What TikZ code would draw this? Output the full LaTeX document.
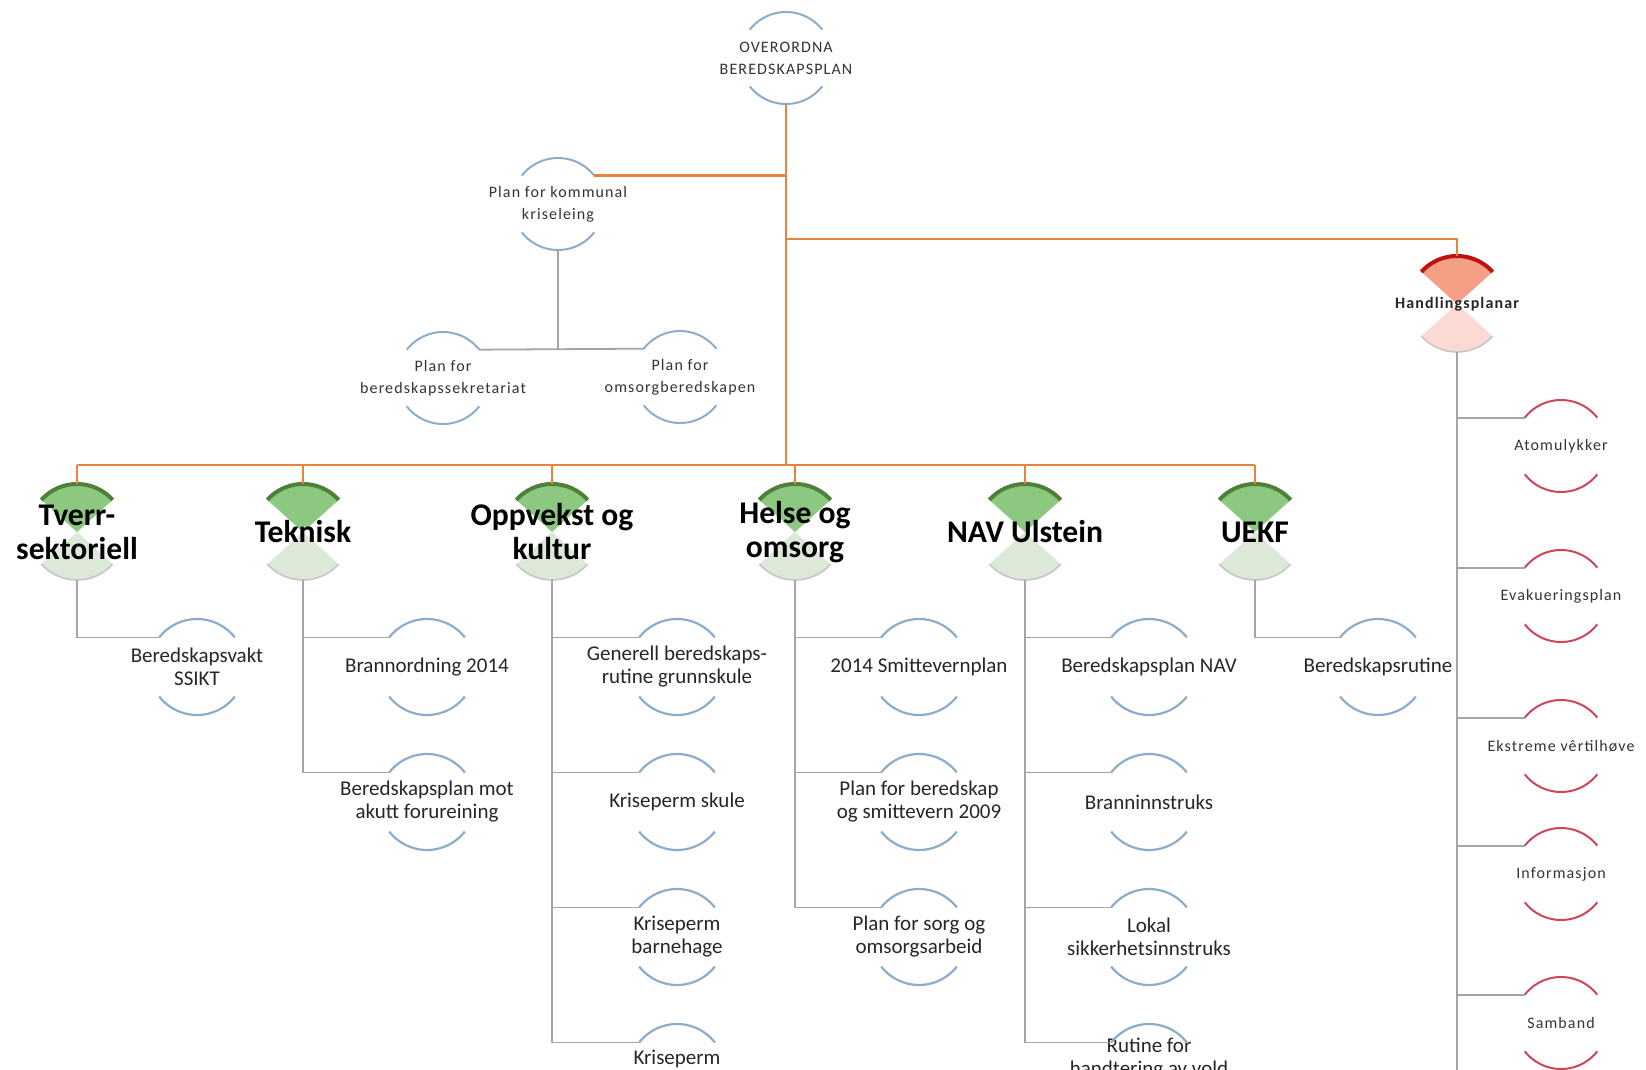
\documentclass[tikz,border=0pt]{standalone}
\usepackage{fontspec}
\setmainfont{Carlito}
\newfontfamily\smallfont[LetterSpace=7]{Carlito}
\usetikzlibrary{backgrounds}

\definecolor{linkorange}{RGB}{232,131,60}
\definecolor{linkgray}{RGB}{165,165,165}
\definecolor{arcblue}{RGB}{140,172,204}
\definecolor{arcred}{RGB}{205,70,90}
\definecolor{sectorgreen}{RGB}{140,200,128}
\definecolor{rimgreen}{RGB}{78,128,58}
\definecolor{palegreen}{RGB}{220,233,216}
\definecolor{sectorsalmon}{RGB}{244,160,135}
\definecolor{rimred}{RGB}{192,16,16}
\definecolor{palesalmon}{RGB}{250,218,210}

\tikzset{
  orangelink/.style={draw=linkorange, line width=1.3pt},
  graylink/.style={draw=linkgray, line width=0.9pt},
  hub/.style={circle, minimum size=48pt, inner sep=0pt, outer sep=0pt,
    label={[font=\bfseries\fontsize{15.8}{17}\selectfont, align=center]center:#1}},
  redhub/.style={circle, minimum size=48pt, inner sep=0pt, outer sep=0pt,
    label={[font=\smallfont\bfseries\fontsize{8}{10}\selectfont, text=black!85, align=center]center:#1}},
  plan/.style={circle, minimum size=48pt, inner sep=0pt, outer sep=0pt,
    label={[font=\fontsize{10.5}{11.5}\selectfont, text=black!85, align=center]center:#1}},
  smallplan/.style={circle, minimum size=46pt, inner sep=0pt, outer sep=0pt,
    label={[font=\smallfont\fontsize{8}{11}\selectfont, text=black!80, align=center]center:#1}},
}

\begin{document}
\begin{tikzpicture}[x=0.5pt, y=0.5pt]
  \useasboundingbox (0,0) rectangle (1646,-1070);

  % top part
  \node[smallplan={OVERORDNA\\BEREDSKAPSPLAN}] (top) at (786,-58) {};
  \node[smallplan={Plan for kommunal\\kriseleing}] (krise) at (558,-204) {};
  \node[smallplan={Plan for\\beredskapssekretariat}] (sekr) at (443,-378) {};
  \node[smallplan={Plan for\\omsorgberedskapen}] (omsorg) at (680,-377) {};
  \node[redhub={Handlingsplanar}] (handl) at (1457,-304) {};

  \coordinate (hjoin) at (786,-239);
  \coordinate (bus) at (786,-465);
  \coordinate (hend) at (1457,-1080);

  % sectors
  \node[hub={Tverr-\\sektoriell}] (tverr) at (77,-532) {};
  \node[hub={Teknisk}] (teknisk) at (303,-532) {};
  \node[hub={Oppvekst og\\kultur}] (oppvekst) at (552,-532) {};
  \node[hub={Helse og\\omsorg}] (helse) at (795,-532) {};
  \node[hub={NAV Ulstein}] (nav) at (1025,-532) {};
  \node[hub={UEKF}] (uekf) at (1255,-532) {};

  % plans
  \node[plan={Beredskapsvakt\\SSIKT}] (vakt) at (197,-667) {};
  \node[plan={Brannordning 2014}] (brann) at (427,-667) {};
  \node[plan={Beredskapsplan mot\\akutt forureining}] (forur) at (427,-802) {};
  \node[plan={Generell beredskaps-\\rutine grunnskule}] (generell) at (677,-667) {};
  \node[plan={Kriseperm skule}] (kskule) at (677,-802) {};
  \node[plan={Kriseperm\\barnehage}] (kbarn) at (677,-937) {};
  \node[plan={Kriseperm\\\strut}] (kfjerde) at (677,-1072) {};
  \node[plan={2014 Smittevernplan}] (smitte) at (919,-667) {};
  \node[plan={Plan for beredskap\\og smittevern 2009}] (bsmitte) at (919,-802) {};
  \node[plan={Plan for sorg og\\omsorgsarbeid}] (sorg) at (919,-937) {};
  \node[plan={Beredskapsplan NAV}] (bnav) at (1149,-667) {};
  \node[plan={Branninnstruks}] (branninn) at (1149,-802) {};
  \node[plan={Lokal\\sikkerhetsinnstruks}] (lokal) at (1149,-937) {};
  \node[plan={Rutine for\\handtering av vold\\\strut}] (rutine) at (1149,-1072) {};
  \node[plan={Beredskapsrutine}] (brutine) at (1378,-667) {};

  % action plans
  \node[smallplan={Atomulykker}] (atom) at (1561,-446) {};
  \node[smallplan={Evakueringsplan}] (evak) at (1561,-596) {};
  \node[smallplan={Ekstreme vêrtilhøve}] (ekstrem) at (1561,-746) {};
  \node[smallplan={Informasjon}] (info) at (1561,-874) {};
  \node[smallplan={Samband}] (samband) at (1561,-1023) {};

  \begin{scope}[on background layer]
    \foreach \n in {tverr,teknisk,oppvekst,helse,nav,uekf} {
      \fill[sectorgreen] (\n.center) -- (\n.42) arc[start angle=42, end angle=138, radius=24pt] -- cycle;
      \fill[palegreen] (\n.center) -- (\n.-42) arc[start angle=-42, end angle=-138, radius=24pt] -- cycle;
      \draw[gray!45, line width=0.8pt] (\n.-42) arc[start angle=-42, end angle=-138, radius=24pt];
      \draw[rimgreen, line width=2pt] (\n.42) arc[start angle=42, end angle=138, radius=24pt];
    }
    \fill[sectorsalmon] (handl.center) -- (handl.42) arc[start angle=42, end angle=138, radius=24pt] -- cycle;
    \fill[palesalmon] (handl.center) -- (handl.-42) arc[start angle=-42, end angle=-138, radius=24pt] -- cycle;
    \draw[gray!45, line width=0.8pt] (handl.-42) arc[start angle=-42, end angle=-138, radius=24pt];
    \draw[rimred, line width=2pt] (handl.42) arc[start angle=42, end angle=138, radius=24pt];
  \end{scope}

  % arcs
  \foreach \n in {top,krise,sekr,omsorg}
    \draw[arcblue, line width=1pt] (\n.38) arc[start angle=38, end angle=142, radius=23pt]
      (\n.-38) arc[start angle=-38, end angle=-142, radius=23pt];
  \foreach \n in {vakt,brann,forur,generell,kskule,kbarn,kfjerde,smitte,bsmitte,sorg,bnav,branninn,lokal,rutine,brutine}
    \draw[arcblue, line width=1.1pt] (\n.38) arc[start angle=38, end angle=142, radius=24pt]
      (\n.-38) arc[start angle=-38, end angle=-142, radius=24pt];
  \foreach \n in {atom,evak,ekstrem,info,samband}
    \draw[arcred, line width=1pt] (\n.38) arc[start angle=38, end angle=142, radius=23pt]
      (\n.-38) arc[start angle=-38, end angle=-142, radius=23pt];

  % orange links
  \draw[orangelink] (top.south) -- (bus);
  \draw[orangelink] (krise.38) -- (krise.38 -| top.south);
  \draw[orangelink] (hjoin) -| (handl.north);
  \draw[orangelink] (bus -| tverr.north) -- (bus -| uekf.north);
  \foreach \n in {tverr,teknisk,oppvekst,helse,nav,uekf}
    \draw[orangelink] (bus -| \n.north) -- (\n.north);

  % gray links
  \draw[graylink] (krise.south) -- (krise.south |- sekr.38);
  \draw[graylink] (sekr.38) -- (omsorg.142);
  \foreach \p/\c in {tverr/vakt, teknisk/brann, teknisk/forur,
      oppvekst/generell, oppvekst/kskule, oppvekst/kbarn, oppvekst/kfjerde,
      helse/smitte, helse/bsmitte, helse/sorg,
      nav/bnav, nav/branninn, nav/lokal, nav/rutine, uekf/brutine}
    \draw[graylink] (\p.south) |- (\c.142);
  \draw[graylink] (handl.south) -- (hend);
  \foreach \c in {atom,evak,ekstrem,info,samband}
    \draw[graylink] (handl.south) |- (\c.142);
\end{tikzpicture}
\end{document}
